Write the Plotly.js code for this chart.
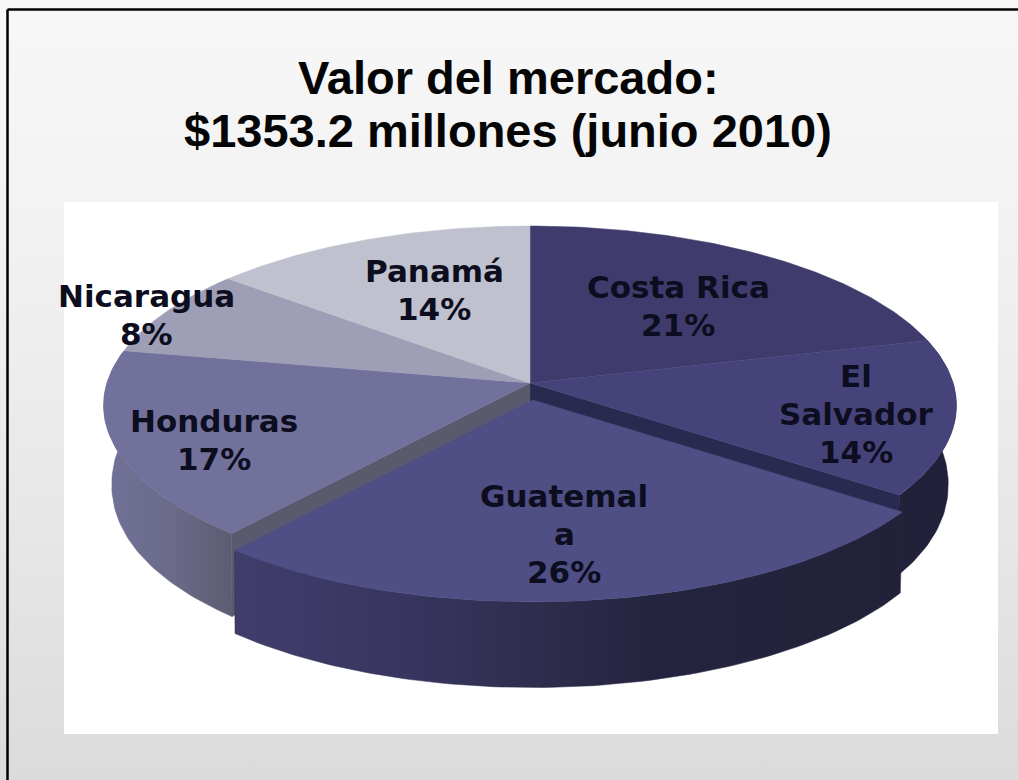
<!DOCTYPE html>
<html>
<head>
<meta charset="utf-8">
<script src="https://cdn.plot.ly/plotly-3.0.1.min.js"></script>
<style>
html,body{margin:0;padding:0;background:#fff}
#chart{width:1018px;height:780px;background:linear-gradient(#f7f7f8 0%,#f3f3f4 25%,#e6e6e6 70%,#dbdbdb 100%)}
</style>
</head>
<body>
<div id="chart"></div>
<script>
// Data
const categories = ["Costa Rica", "El Salvador", "Guatemala", "Honduras", "Nicaragua", "Panamá"];
const shares = [21, 14, 26, 17, 8, 14];
const labelLines = [["Costa Rica"], ["El", "Salvador"], ["Guatemal", "a"], ["Honduras"], ["Nicaragua"], ["Panamá"]];
const titleLines = ["Valor del mercado:", "$1353.2 millones (junio 2010)"];

// Styling and placement
const topColors = ["#3f3b6c", "#46437b", "#4f4e85", "#72719c", "#9e9eb6", "#c0c1ce"];
const labelX = [678, 856, 564, 214, 146, 434];
const labelY = [306, 414, 534, 440, 315, 290];
const labelStep = 38;
const titleY = [77, 130];
const cx = 530, cy = 383, R = 423, K = 176.6, P = 0.125, D = 75, TAPER = 0.02;
const explode = {2: {x: 3, y: 17}};

function project(deg, z, off) {
  const t = deg * Math.PI / 180, s = 1 / (1 + P * Math.cos(t));
  const taper = 1 - TAPER * z * Math.pow(Math.sin(t), 6);
  return [cx + off.x + R * taper * Math.sin(t) * s, cy + off.y - K * Math.cos(t) * s + z * D * s];
}
function arc(a, b, z, off) {
  const pts = [], n = Math.max(2, Math.ceil(Math.abs(b - a) / 1));
  for (let i = 0; i <= n; i++) pts.push(project(a + (b - a) * i / n, z, off));
  return pts;
}
function poly(pts, name, color, grad) {
  const xs = pts.map(p => p[0]).concat(pts[0][0]);
  const ys = pts.map(p => p[1]).concat(pts[0][1]);
  const tr = {type: "scatter", mode: "lines", x: xs, y: ys, fill: "toself", name: name,
    line: {width: 0.5, color: color}, fillcolor: color, hoverinfo: "name", showlegend: false};
  if (grad) tr.fillgradient = {type: "horizontal", colorscale: grad};
  return tr;
}

// Slice boundaries, clockwise from 12 o'clock
const total = shares.reduce((a, b) => a + b, 0);
const bounds = [0];
shares.forEach(v => bounds.push(bounds[bounds.length - 1] + v / total * 360));
const none = {x: 0, y: 0};
const off = i => explode[i] || none;
const topOf = i => poly([[cx + off(i).x, cy + off(i).y]].concat(arc(bounds[i], bounds[i + 1], 0, off(i))),
  categories[i] + " " + shares[i] + "%", topColors[i]);
function sideOf(i, a, b, color, grad) {
  return poly(arc(a, b, 0, off(i)).concat(arc(b, a, 1, off(i))), categories[i], color, grad);
}
function wallOf(i, deg, color) {
  const o = off(i), e0 = project(deg, 0, o), e1 = project(deg, 1, o);
  return poly([[cx + o.x, cy + o.y], e0, e1, [cx + o.x, cy + o.y + D]], categories[i], color);
}

const traces = [
  sideOf(3, bounds[3], 280, "#666684", [[0, "#72729a"], [0.55, "#6a6a88"], [1, "#5c5c72"]]),
  sideOf(1, bounds[1], bounds[2], "#21213a", [[0, "#21213a"], [1, "#20203a"]]),
  wallOf(1, bounds[2], "#2a2950"),
  wallOf(3, bounds[3], "#5a5a6e"),
  topOf(0), topOf(1), topOf(3), topOf(4), topOf(5),
  sideOf(2, bounds[2], bounds[3], "#2c2a48",
    [[0, "#403d6b"], [0.25, "#383660"], [0.45, "#2e2d4d"], [0.62, "#252440"], [1, "#212138"]]),
  topOf(2)
];

const annotations = [];
labelLines.forEach((lines, i) => {
  const all = lines.concat(shares[i] + "%");
  all.forEach((line, j) => {
    annotations.push({
      x: labelX[i], y: labelY[i] + (j - (all.length - 1) / 2) * labelStep,
      xref: "x", yref: "y", showarrow: false, text: line,
      font: {family: "DejaVu Sans", size: 31, color: "#0d0d20", weight: 700},
      align: "center", xanchor: "center", yanchor: "middle"
    });
  });
});
titleLines.forEach((line, i) => {
  annotations.push({
    x: 508, y: titleY[i], xref: "x", yref: "y", showarrow: false, text: line,
    font: {family: "Liberation Sans", size: 47, color: "#050505", weight: 700},
    align: "center", xanchor: "center", yanchor: "middle"
  });
});

const layout = {
  width: 1018, height: 780,
  margin: {l: 0, r: 0, t: 0, b: 0},
  paper_bgcolor: "rgba(0,0,0,0)", plot_bgcolor: "rgba(0,0,0,0)",
  xaxis: {range: [0, 1018], visible: false, fixedrange: true},
  yaxis: {range: [780, 0], visible: false, fixedrange: true},
  showlegend: false,
  annotations: annotations,
  shapes: [
    {type: "rect", layer: "below", xref: "x", yref: "y", x0: 64, x1: 998, y0: 202, y1: 734,
      fillcolor: "#ffffff", line: {width: 0}},
    {type: "line", layer: "below", xref: "x", yref: "y", x0: 7.5, x1: 1018, y0: 9.5, y1: 9.5,
      line: {width: 2.5, color: "#000000"}},
    {type: "line", layer: "below", xref: "x", yref: "y", x0: 7.5, x1: 7.5, y0: 9.5, y1: 780,
      line: {width: 2.5, color: "#000000"}}
  ]
};
Plotly.newPlot("chart", traces, layout, {displayModeBar: false});
</script>
</body>
</html>
